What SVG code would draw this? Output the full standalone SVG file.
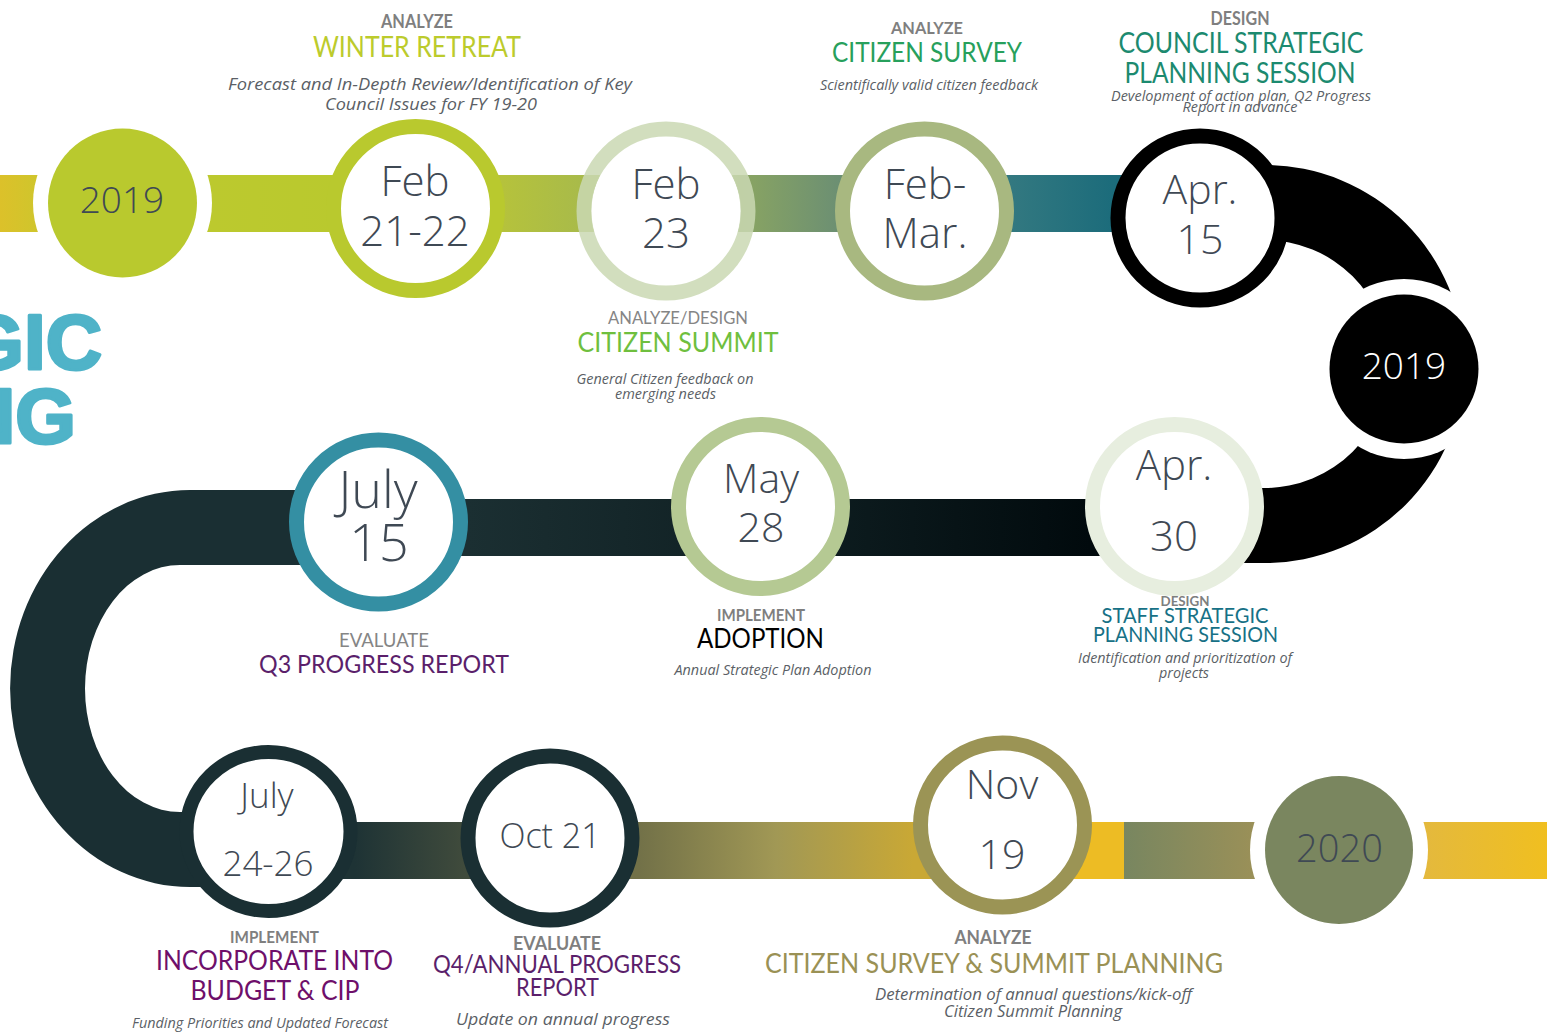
<svg xmlns="http://www.w3.org/2000/svg" width="1547" height="1033" viewBox="0 0 1547 1033">
<style>
.date{font-family:"Open Sans","DejaVu Sans",sans-serif;font-weight:300;fill:#3f4954;text-anchor:middle}
.phase{font-family:Lato,"Liberation Sans",sans-serif;fill:#7f7f7f;text-anchor:middle;font-weight:bold}
.phaseN{font-family:Lato,"Liberation Sans",sans-serif;fill:#858585;text-anchor:middle}
.title{font-family:Lato,"Liberation Sans",sans-serif;text-anchor:middle}
.desc{font-family:"Open Sans","DejaVu Sans",sans-serif;font-style:italic;fill:#5b5f66;text-anchor:middle}
.ring{fill:#fff;stroke-width:15}
.halo{fill:#fff}
.big{font-family:"Liberation Sans",Arial,sans-serif;font-weight:bold;fill:#4fb3c8;stroke:#4fb3c8;stroke-width:3;stroke-linejoin:round;text-anchor:end}
</style>
<defs>
<linearGradient id="gTop" gradientUnits="userSpaceOnUse" x1="0" y1="0" x2="1190" y2="0">
<stop offset="0" stop-color="#dcc12a"/>
<stop offset="0.03" stop-color="#d0c52c"/>
<stop offset="0.178" stop-color="#bcc92e"/>
<stop offset="0.286" stop-color="#b9c92e"/>
<stop offset="0.423" stop-color="#b5c23c"/>
<stop offset="0.485" stop-color="#a9bb49"/>
<stop offset="0.634" stop-color="#86a264"/>
<stop offset="0.702" stop-color="#6d9072"/>
<stop offset="0.852" stop-color="#327880"/>
<stop offset="0.934" stop-color="#1c6c7b"/>
<stop offset="1" stop-color="#176a7a"/>
</linearGradient>
<linearGradient id="gMid" gradientUnits="userSpaceOnUse" x1="468" y1="0" x2="1090" y2="0">
<stop offset="0" stop-color="#1b2f32"/>
<stop offset="0.5" stop-color="#0f1f22"/>
<stop offset="1" stop-color="#010a0d"/>
</linearGradient>
<linearGradient id="gB1" gradientUnits="userSpaceOnUse" x1="355" y1="0" x2="465" y2="0">
<stop offset="0" stop-color="#1e3335"/>
<stop offset="1" stop-color="#404b3c"/>
</linearGradient>
<linearGradient id="gB2" gradientUnits="userSpaceOnUse" x1="639" y1="0" x2="913" y2="0">
<stop offset="0" stop-color="#727148"/>
<stop offset="0.5" stop-color="#a19855"/>
<stop offset="1" stop-color="#c9a835"/>
</linearGradient>
<linearGradient id="gB3" gradientUnits="userSpaceOnUse" x1="1124" y1="0" x2="1253" y2="0">
<stop offset="0" stop-color="#788660"/>
<stop offset="1" stop-color="#9a9058"/>
</linearGradient>
<linearGradient id="gB4" gradientUnits="userSpaceOnUse" x1="1424" y1="0" x2="1547" y2="0">
<stop offset="0" stop-color="#e4b93d"/>
<stop offset="1" stop-color="#f0bf20"/>
</linearGradient>
</defs>
<rect width="1547" height="1033" fill="#fff"/>

<g id="heading-fragment">
<text class="big" x="102" y="369" font-size="78">GIC</text>
<text class="big" x="76" y="443" font-size="78">NG</text>
</g>

<g id="connectors">
<rect x="0" y="175" width="1195" height="57" fill="url(#gTop)"/>
<path d="M1190 165 L1265 165 A199 199 0 0 1 1265 563 L1174 563 L1174 488 L1265 488 A124 124 0 0 0 1265 240 L1190 240 Z" fill="#000"/>
<rect x="378" y="499" width="800" height="57" fill="url(#gMid)"/>
<path d="M379 490 L190 490 A180 198.5 0 0 0 190 887 L269 887 L269 812 L180 812 A95 123.5 0 0 1 180 565 L379 565 Z" fill="#1a2f33"/>
<rect x="269" y="822" width="290" height="57" fill="url(#gB1)"/>
<rect x="550" y="822" width="455" height="57" fill="url(#gB2)"/>
<rect x="1002" y="822" width="122" height="57" fill="#edbc24"/>
<rect x="1124" y="822" width="215" height="57" fill="url(#gB3)"/>
<rect x="1339" y="822" width="208" height="57" fill="url(#gB4)"/>
</g>

<g id="year-2019-start">
<circle class="halo" cx="122.5" cy="203" r="89.5"/>
<circle cx="122.5" cy="203" r="74.5" fill="#b9c92e"/>
<text class="date" x="122" y="213" font-size="37">2019</text>
</g>
<g id="year-2019-mid">
<circle class="halo" cx="1404" cy="369" r="90"/>
<circle cx="1404" cy="369" r="74.5" fill="#000"/>
<text class="date" x="1404" y="379" font-size="37" style="fill:#fff">2019</text>
</g>
<g id="year-2020">
<circle class="halo" cx="1339" cy="850" r="89"/>
<circle cx="1339" cy="850" r="74" fill="#7a865f"/>
<text class="date" x="1339.5" y="862" font-size="38">2020</text>
</g>

<g id="node-feb-21-22">
<circle class="ring" cx="415.5" cy="208.5" r="82" stroke="#b9c92e"/>
<text class="date" x="415" y="196" font-size="42">Feb</text>
<text class="date" x="415" y="246" font-size="42">21-22</text>
</g>
<g id="node-feb-23">
<circle cx="666" cy="211" r="75" fill="#fff"/>
<circle cx="666" cy="211" r="82" fill="none" stroke="#cad8b3" stroke-width="15" stroke-opacity="0.85"/>
<text class="date" x="666" y="199" font-size="42">Feb</text>
<text class="date" x="666" y="248" font-size="42">23</text>
</g>
<g id="node-feb-mar">
<circle class="ring" cx="924.5" cy="211" r="82" stroke="#a8b880"/>
<text class="date" x="925" y="199" font-size="42">Feb-</text>
<text class="date" x="925" y="248" font-size="42">Mar.</text>
</g>
<g id="node-apr-15">
<circle class="ring" cx="1200" cy="218" r="82" stroke="#000"/>
<text class="date" x="1200" y="204" font-size="41">Apr.</text>
<text class="date" x="1200" y="254" font-size="41">15</text>
</g>
<g id="node-apr-30">
<circle class="ring" cx="1174.5" cy="506.5" r="82" stroke="#e7eedf"/>
<text class="date" x="1174" y="480" font-size="42">Apr.</text>
<text class="date" x="1174" y="551" font-size="42">30</text>
</g>
<g id="node-may-28">
<circle class="ring" cx="760.5" cy="506.5" r="82" stroke="#b5c993"/>
<text class="date" x="761" y="493" font-size="41">May</text>
<text class="date" x="761" y="542" font-size="41">28</text>
</g>
<g id="node-july-15">
<circle class="ring" cx="378.5" cy="522" r="82" stroke="#348fa3"/>
<text class="date" x="378" y="508" font-size="52">July</text>
<text class="date" x="379" y="561" font-size="52">15</text>
</g>
<g id="node-july-24-26">
<ellipse cx="268.5" cy="831.5" rx="82" ry="79.5" fill="#fff" stroke="#1a2f33" stroke-width="14"/>
<text class="date" x="267" y="808" font-size="35">July</text>
<text class="date" x="268" y="876" font-size="35">24-26</text>
</g>
<g id="node-oct-21">
<circle class="ring" cx="550" cy="838" r="82" stroke="#1a2f33"/>
<text class="date" x="550" y="848" font-size="34">Oct 21</text>
</g>
<g id="node-nov-19">
<circle class="ring" cx="1002.5" cy="825" r="82" stroke="#9b9455"/>
<text class="date" x="1002" y="799" font-size="41">Nov</text>
<text class="date" x="1002" y="869" font-size="41">19</text>
</g>

<g id="label-winter-retreat">
<text class="phase" x="417" y="28" font-size="18" textLength="72" lengthAdjust="spacingAndGlyphs">ANALYZE</text>
<text class="title" x="417" y="57" font-size="28" fill="#bccb2c" textLength="208" lengthAdjust="spacingAndGlyphs">WINTER RETREAT</text>
<text class="desc" x="430" y="90" font-size="17" textLength="404" lengthAdjust="spacingAndGlyphs">Forecast and In-Depth Review/Identification of Key</text>
<text class="desc" x="431" y="110" font-size="17" textLength="212" lengthAdjust="spacingAndGlyphs">Council Issues for FY 19-20</text>
</g>
<g id="label-citizen-survey">
<text class="phase" x="927" y="34" font-size="17" textLength="72" lengthAdjust="spacingAndGlyphs">ANALYZE</text>
<text class="title" x="927" y="62" font-size="27" fill="#27a05c" textLength="190" lengthAdjust="spacingAndGlyphs">CITIZEN SURVEY</text>
<text class="desc" x="929" y="90" font-size="14" textLength="218" lengthAdjust="spacingAndGlyphs">Scientifically valid citizen feedback</text>
</g>
<g id="label-council-session">
<text class="phase" x="1240" y="25" font-size="18" textLength="59" lengthAdjust="spacingAndGlyphs">DESIGN</text>
<text class="title" x="1241" y="53" font-size="28" fill="#1c8a6f" textLength="245" lengthAdjust="spacingAndGlyphs">COUNCIL STRATEGIC</text>
<text class="title" x="1240" y="83" font-size="28" fill="#1c8a6f" textLength="231" lengthAdjust="spacingAndGlyphs">PLANNING SESSION</text>
<text class="desc" x="1241" y="101" font-size="14" textLength="260" lengthAdjust="spacingAndGlyphs">Development of action plan, Q2 Progress</text>
<text class="desc" x="1240" y="112" font-size="14" textLength="115" lengthAdjust="spacingAndGlyphs">Report in advance</text>
</g>
<g id="label-citizen-summit">
<text class="phaseN" x="678" y="324" font-size="17" textLength="140" lengthAdjust="spacingAndGlyphs">ANALYZE/DESIGN</text>
<text class="title" x="678" y="352" font-size="27" fill="#6fbf3e" textLength="201" lengthAdjust="spacingAndGlyphs">CITIZEN SUMMIT</text>
<text class="desc" x="665" y="384" font-size="15" textLength="177" lengthAdjust="spacingAndGlyphs">General Citizen feedback on</text>
<text class="desc" x="665.5" y="399" font-size="15" textLength="101" lengthAdjust="spacingAndGlyphs">emerging needs</text>
</g>
<g id="label-adoption">
<text class="phase" x="761" y="621" font-size="17" textLength="88" lengthAdjust="spacingAndGlyphs">IMPLEMENT</text>
<text class="title" x="760.5" y="648" font-size="27" fill="#000" textLength="127" lengthAdjust="spacingAndGlyphs">ADOPTION</text>
<text class="desc" x="773" y="675" font-size="15" textLength="197" lengthAdjust="spacingAndGlyphs">Annual Strategic Plan Adoption</text>
</g>
<g id="label-staff-session">
<text class="phase" x="1185" y="606" font-size="14" textLength="49" lengthAdjust="spacingAndGlyphs">DESIGN</text>
<text class="title" x="1185" y="623" font-size="21" fill="#177186" textLength="167" lengthAdjust="spacingAndGlyphs">STAFF STRATEGIC</text>
<text class="title" x="1185.5" y="642" font-size="21" fill="#177186" textLength="185" lengthAdjust="spacingAndGlyphs">PLANNING SESSION</text>
<text class="desc" x="1185" y="663" font-size="14" textLength="214" lengthAdjust="spacingAndGlyphs">Identification and prioritization of</text>
<text class="desc" x="1184" y="678" font-size="14" textLength="50" lengthAdjust="spacingAndGlyphs">projects</text>
</g>
<g id="label-q3-report">
<text class="phaseN" x="384" y="647" font-size="19" textLength="90" lengthAdjust="spacingAndGlyphs">EVALUATE</text>
<text class="title" x="384" y="673" font-size="25" fill="#5b1f6b" textLength="250" lengthAdjust="spacingAndGlyphs">Q3 PROGRESS REPORT</text>
</g>
<g id="label-budget-cip">
<text class="phase" x="274.5" y="943" font-size="17" textLength="89" lengthAdjust="spacingAndGlyphs">IMPLEMENT</text>
<text class="title" x="274.5" y="970" font-size="27" fill="#6e0f6a" textLength="237" lengthAdjust="spacingAndGlyphs">INCORPORATE INTO</text>
<text class="title" x="275" y="1000" font-size="27" fill="#6e0f6a" textLength="169" lengthAdjust="spacingAndGlyphs">BUDGET &amp; CIP</text>
<text class="desc" x="260" y="1028" font-size="14" textLength="256" lengthAdjust="spacingAndGlyphs">Funding Priorities and Updated Forecast</text>
</g>
<g id="label-q4-report">
<text class="phase" x="557" y="950" font-size="18" textLength="88" lengthAdjust="spacingAndGlyphs">EVALUATE</text>
<text class="title" x="557" y="973" font-size="25" fill="#5b1f6b" textLength="248" lengthAdjust="spacingAndGlyphs">Q4/ANNUAL PROGRESS</text>
<text class="title" x="557.5" y="996" font-size="25" fill="#5b1f6b" textLength="83" lengthAdjust="spacingAndGlyphs">REPORT</text>
<text class="desc" x="563" y="1025" font-size="17" textLength="214" lengthAdjust="spacingAndGlyphs">Update on annual progress</text>
</g>
<g id="label-survey-summit-planning">
<text class="phase" x="993" y="944" font-size="19" textLength="77" lengthAdjust="spacingAndGlyphs">ANALYZE</text>
<text class="title" x="994" y="973" font-size="27" fill="#9a9155" textLength="458" lengthAdjust="spacingAndGlyphs">CITIZEN SURVEY &amp; SUMMIT PLANNING</text>
<text class="desc" x="1033.5" y="1000" font-size="16" textLength="317" lengthAdjust="spacingAndGlyphs">Determination of annual questions/kick-off</text>
<text class="desc" x="1033" y="1017" font-size="16" textLength="178" lengthAdjust="spacingAndGlyphs">Citizen Summit Planning</text>
</g>
</svg>
